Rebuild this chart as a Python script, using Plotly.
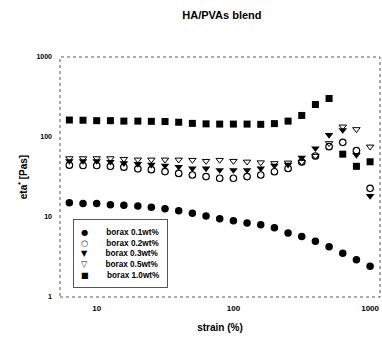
import numpy as np
import plotly.graph_objects as go

# strain (%) — 10 points per decade from 6.3 to 1000
strain = [6.31, 7.94, 10.0, 12.6, 15.8, 20.0, 25.1, 31.6, 39.8, 50.1, 63.1, 79.4,
          100.0, 125.9, 158.5, 199.5, 251.2, 316.2, 398.1, 501.2, 631.0, 794.3, 1000.0]

borax_01 = [15.1, 14.8, 14.8, 14.2, 14.0, 13.7, 13.2, 12.7, 12.0, 11.1, 10.3, 9.5,
            9.0, 8.4, 8.0, 7.35, 6.3, 5.7, 4.97, 4.25, 3.52, 2.93, 2.42]
borax_02 = [44.5, 44, 44, 43, 42, 40, 39, 37, 35, 33.5, 32, 30.5,
            30.5, 32, 33.5, 36.8, 40.4, 48.7, 57.9, 75.6, 85.9, 67.4, 22.8]
borax_03 = [50, 50, 50, 49, 47, 46, 45, 44, 42.4, 40.4, 40.4, 38.6,
            38.6, 38.6, 40.4, 44, 45, 55.4, 72.2, 106, 122, 59.6, 18.3]
borax_05 = [54, 54, 54, 54, 53, 52, 52, 52, 52, 51.5, 50, 51.5,
            50, 49, 48, 46.9, 47.7, 48.7, 57.9, 83.4, 134.5, 124.8, 75.6]
borax_10 = [163, 162, 160, 160, 158, 158, 157, 156, 153, 148, 146, 145,
            145, 145, 144, 147, 158, 186, 255, 303, 61, 43, 49]

series_names = ["borax 0.1wt%", "borax 0.2wt%", "borax 0.3wt%", "borax 0.5wt%", "borax 1.0wt%"]
series_values = [borax_01, borax_02, borax_03, borax_05, borax_10]
legend_glyphs = ["●", "○", "▼", "▽", "■"]

x_ticks = [10, 100, 1000]
x_ticklabels = ["<b>10</b>", "<b>100</b>", "<b>1000</b>"]
y_ticks = [1, 10, 100, 1000]
y_ticklabels = ["<b>1</b>", "<b>10</b>", "<b>100</b>", "<b>1000</b>"]

styles = [
    dict(symbol="circle", size=7.5, color="black", line=dict(width=0)),
    dict(symbol="circle-open", size=6.5, color="black", line=dict(width=1.2, color="black")),
    dict(symbol="triangle-down", size=7.5, color="black", line=dict(width=0)),
    dict(symbol="triangle-down-open", size=6.5, color="black", line=dict(width=1, color="black")),
    dict(symbol="square", size=7, color="black", line=dict(width=0)),
]

FONT = "Liberation Sans, Arial, sans-serif"

fig = go.Figure()
for name, vals, st in zip(series_names, series_values, styles):
    fig.add_trace(go.Scatter(x=strain, y=vals, mode="markers", name=name,
                             marker=st, showlegend=False))

fig.update_layout(
    width=382, height=338,
    margin=dict(l=60, r=2, t=57, b=41),
    paper_bgcolor="white", plot_bgcolor="white",
    font=dict(family=FONT, color="black"),
    title=dict(text="<b>HA/PVAs blend</b>", x=0.506, xref="paper", xanchor="center",
               y=0.955, yanchor="middle", font=dict(size=11, family=FONT)),
)
fig.update_xaxes(type="log", range=[0.7315, 3.0725], tickvals=x_ticks, ticktext=x_ticklabels,
                 showgrid=False, zeroline=False, showline=False, ticks="",
                 tickfont=dict(size=8), ticklabelstandoff=5,
                 title=dict(text="<b>strain (%)</b>", font=dict(size=10), standoff=11))
fig.update_yaxes(type="log", range=[0, 3], tickvals=y_ticks, ticktext=y_ticklabels,
                 showgrid=False, zeroline=False, showline=False, ticks="",
                 tickfont=dict(size=7), ticklabelstandoff=7,
                 title=dict(text="<b>eta<sup>*</sup> [Pas]</b>", font=dict(size=10), standoff=6))

# dotted frame around plotting area
fig.add_shape(type="rect", xref="paper", yref="paper", x0=0, x1=1, y0=0, y1=1,
              line=dict(color="#555", width=1, dash="dot"), layer="below")

# compact legend box
legend_text = "<br>".join(
    f"<span style='font-family:DejaVu Sans'>{g}</span>        <b>{n}</b>"
    for g, n in zip(legend_glyphs, series_names))
fig.add_annotation(xref="paper", yref="paper", x=0.04, y=0.327, xanchor="left", yanchor="top",
                   text=legend_text, showarrow=False, align="left",
                   font=dict(size=8.2, family=FONT),
                   bordercolor="#555", borderwidth=1, borderpad=7, bgcolor="white")

fig.write_html("out.html", config={"displayModeBar": False},
               post_script="document.body.style.margin='0';")
